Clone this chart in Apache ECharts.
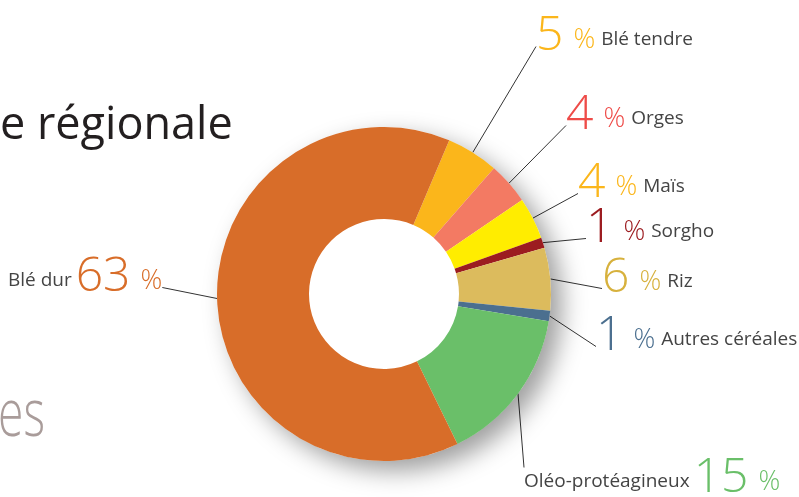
<!DOCTYPE html>
<html>
<head>
<meta charset="utf-8">
<script src="https://cdn.jsdelivr.net/npm/echarts@6/dist/echarts.min.js"></script>
<style>
  html, body { margin: 0; padding: 0; background: #fff; }
  #chart { width: 799px; height: 497px; }
</style>
</head>
<body>
<div id="chart"></div>
<script>
// cultures, in clockwise order starting at Blé tendre
const names = ['Blé tendre', 'Orges', 'Maïs', 'Sorgho', 'Riz', 'Autres céréales', 'Oléo-protéagineux', 'Blé dur'];
const shares = [5, 4, 4, 1, 6, 1, 15, 63];
const colors = ['#fbb61b', '#f37a63', '#ffed00', '#9c1c20', '#dcbb5d', '#4b6f8f', '#6abf69', '#d86d29'];
const numColors = ['#fbb61b', '#ee4b48', '#fbb61b', '#9c1c20', '#d7b13d', '#4b6f8f', '#6abf69', '#d86d29'];

// where each label goes (left x, bottom y of the label box)
const labelPos = [
  [536, 90], [566, 169], [578, 237], [586, 282],
  [602, 332], [596, 390], [524, 504], [8, 331]
];
const nameFirst = [false, false, false, false, false, false, true, true];
// empty line under (1) or above (-1) the label so the guide line meets it where the original does
const gapSide = [1, 1, 1, 1, 1, 1, -1, 1];

const chart = echarts.init(document.getElementById('chart'));

const data = names.map((n, i) => ({
  name: n,
  value: shares[i],
  itemStyle: { color: colors[i] },
  label: {
    rich: {
      num: { fontSize: 48, fontWeight: 300, color: numColors[i], fontFamily: 'Open Sans', lineHeight: 52, padding: [0, 6, 0, 0] },
      pct: { fontSize: 27, fontWeight: 300, color: numColors[i], fontFamily: 'Open Sans', padding: [8, 6, 0, 4] },
      name: { fontSize: 19, color: '#444', fontFamily: 'Open Sans', padding: [8, 4, 0, 0] },
      gap: { fontSize: 10, lineHeight: 28 }
    }
  }
}));

chart.setOption({
  animation: false,
  graphic: [
    {
      type: 'text', x: 0, y: 104,
      style: { text: 'e régionale', font: '45px "Open Sans"', fill: '#231f20' }
    },
    {
      type: 'text', x: -2, y: 384, scaleX: 0.7,
      style: { text: 'es', font: '300 66px "Open Sans"', fill: '#a99c9a' }
    }
  ],
  series: [
    {
      // white disc carrying the drop shadow
      type: 'pie',
      center: [384, 294],
      radius: [0, 167],
      silent: true,
      label: { show: false },
      labelLine: { show: false },
      itemStyle: {
        color: '#fff',
        shadowBlur: 24,
        shadowOffsetX: 11,
        shadowOffsetY: 10,
        shadowColor: 'rgba(0,0,0,0.38)'
      },
      data: [{ value: shares.reduce((a, b) => a + b, 0) }]
    },
    {
      type: 'pie',
      center: [384, 294],
      radius: [75, 167],
      startAngle: 67,
      clockwise: true,
      avoidLabelOverlap: false,
      label: {
        show: true,
        formatter: (p) => {
          const i = p.dataIndex;
          let s = nameFirst[i]
            ? '{name|' + p.name + '}{num|' + p.value + '}{pct|%}'
            : '{num|' + p.value + '}{pct|%}{name|' + p.name + '}';
          if (gapSide[i] > 0) s += '\n{gap| }';
          if (gapSide[i] < 0) s = '{gap| }\n' + s;
          return s;
        }
      },
      labelLine: {
        show: true,
        length: 20,
        length2: 0,
        lineStyle: { color: '#333', width: 1 }
      },
      labelLayout: (params) => {
        const i = params.dataIndex;
        return {
          x: labelPos[i][0],
          y: labelPos[i][1],
          align: 'left',
          verticalAlign: 'bottom'
        };
      },
      data: data
    }
  ]
});
</script>
</body>
</html>
